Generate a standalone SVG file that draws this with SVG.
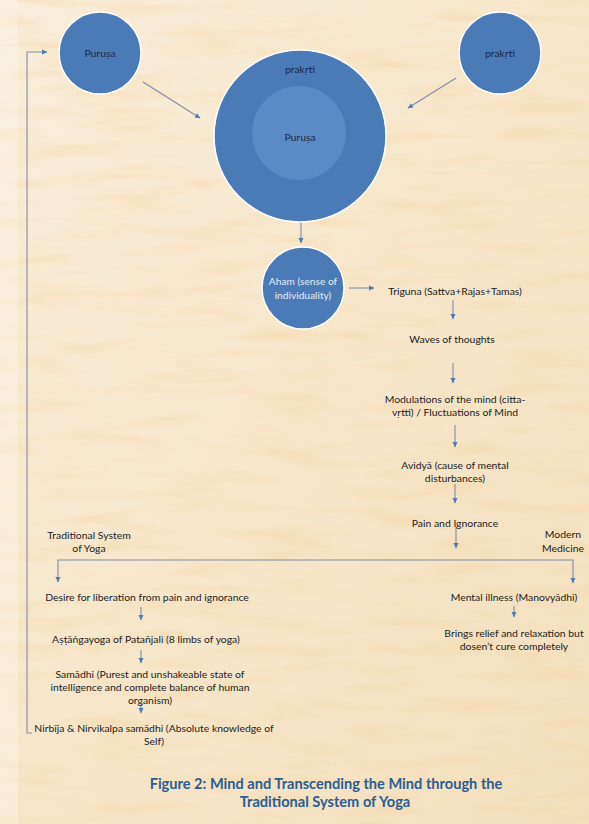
<svg xmlns="http://www.w3.org/2000/svg" width="589" height="824" viewBox="0 0 589 824">
<defs>
<style>
.t{font-family:Lato,"Open Sans","Liberation Sans",sans-serif;font-size:10.4px;fill:#222222;text-anchor:middle}
.nl{font-family:Lato,"Open Sans","Liberation Sans",sans-serif;font-size:10.4px;fill:#1a2a48;text-anchor:middle}
.wl{font-family:Lato,"Open Sans","Liberation Sans",sans-serif;font-size:10.2px;fill:#e3ebf6;text-anchor:middle}
.cap{font-family:Lato,"Open Sans","Liberation Sans",sans-serif;font-size:14.6px;font-weight:bold;fill:#2c5c93;text-anchor:middle}
.c{fill:#4a7bb6;stroke:#ffffff;stroke-width:1.5}
.ln{fill:none;stroke:#7c8ea6;stroke-width:1.1}
</style>
<marker id="ah" markerWidth="6" markerHeight="6" refX="5" refY="3" orient="auto" markerUnits="userSpaceOnUse">
<path d="M0,0.5 L5.5,3 L0,5.5 Z" fill="#4f7cb4"/>
</marker>
<filter id="tex" x="0" y="0" width="100%" height="100%">
<feTurbulence type="fractalNoise" baseFrequency="0.012 0.07" numOctaves="3" seed="7"/>
<feColorMatrix type="matrix" values="0 0 0 0 0.92  0 0 0 0 0.68  0 0 0 0 0.38  0 0 0 2.2 -1.0"/>
</filter>
<linearGradient id="bg" x1="0" y1="0" x2="1" y2="1">
<stop offset="0" stop-color="#f9eedb"/>
<stop offset="0.5" stop-color="#f6e7cb"/>
<stop offset="1" stop-color="#f3dfbc"/>
</linearGradient>
</defs>
<rect width="589" height="824" fill="url(#bg)"/>
<rect width="589" height="824" filter="url(#tex)" opacity="0.6"/>
<rect x="0" y="0" width="18" height="824" fill="#fbf3e4" opacity="0.45"/>

<g id="connectors">
<path class="ln" d="M143,82 L200,118" marker-end="url(#ah)"/>
<path class="ln" d="M456,78 L408,108" marker-end="url(#ah)"/>
<path class="ln" d="M301,222 V243" marker-end="url(#ah)"/>
<path class="ln" d="M349,288 H374" marker-end="url(#ah)"/>
<path class="ln" d="M453,300 V319" marker-end="url(#ah)"/>
<path class="ln" d="M453,363 V383" marker-end="url(#ah)"/>
<path class="ln" d="M455,425 V447" marker-end="url(#ah)"/>
<path class="ln" d="M455,484 V503" marker-end="url(#ah)"/>
<path class="ln" d="M456,527 V548" marker-end="url(#ah)"/>
<path class="ln" d="M300,560 H58 V582" marker-end="url(#ah)"/>
<path class="ln" d="M300,560 H573 V583" marker-end="url(#ah)"/>
<path class="ln" d="M141,607 V620" marker-end="url(#ah)"/>
<path class="ln" d="M141,650 V663" marker-end="url(#ah)"/>
<path class="ln" d="M141,703 V713" marker-end="url(#ah)"/>
<path class="ln" d="M514,606 V617" marker-end="url(#ah)"/>
<path class="ln" d="M32,733 H27 V52 H47" marker-end="url(#ah)"/>
</g>

<g id="purusa-left">
<circle class="c" cx="100" cy="53" r="41"/>
<text class="nl" x="100" y="57">Puruṣa</text>
</g>
<g id="prakrti-right">
<circle class="c" cx="500" cy="53" r="41"/>
<text class="nl" x="500" y="57">prakṛti</text>
</g>
<g id="prakrti-purusa">
<circle class="c" cx="300" cy="136" r="86"/>
<circle cx="299" cy="133" r="47" fill="#5a8bc5"/>
<text class="nl" x="300" y="73">prakṛti</text>
<text class="nl" x="300" y="141">Puruṣa</text>
</g>
<g id="aham">
<circle class="c" cx="303" cy="288" r="41"/>
<text class="wl" x="303" y="285">Aham (sense of</text>
<text class="wl" x="303" y="299">individuality)</text>
</g>
<g id="triguna"><text class="t" x="455" y="295">Triguna (Sattva+Rajas+Tamas)</text></g>
<g id="waves"><text class="t" x="452" y="343">Waves of thoughts</text></g>
<g id="modulations">
<text class="t" x="455" y="403">Modulations of the mind (citta-</text>
<text class="t" x="455" y="416">vṛtti) / Fluctuations of Mind</text>
</g>
<g id="avidya">
<text class="t" x="455" y="469">Avidyā (cause of mental</text>
<text class="t" x="455" y="482">disturbances)</text>
</g>
<g id="pain"><text class="t" x="455" y="527">Pain and Ignorance</text></g>
<g id="traditional">
<text class="t" x="89" y="539">Traditional System</text>
<text class="t" x="89" y="552">of Yoga</text>
</g>
<g id="modern">
<text class="t" x="563" y="538">Modern</text>
<text class="t" x="563" y="552">Medicine</text>
</g>
<g id="desire"><text class="t" x="147" y="601">Desire for liberation from pain and ignorance</text></g>
<g id="astanga"><text class="t" x="146" y="643">Aṣṭāṅgayoga of Patañjali  (8 limbs of yoga)</text></g>
<g id="samadhi">
<text class="t" x="150" y="678">Samādhi (Purest and unshakeable state of</text>
<text class="t" x="150" y="691">intelligence and complete balance of human</text>
<text class="t" x="150" y="704">organism)</text>
</g>
<g id="nirbija">
<text class="t" x="154" y="732">Nirbīja &amp; Nirvikalpa samādhi (Absolute knowledge of</text>
<text class="t" x="154" y="745">Self)</text>
</g>
<g id="mental"><text class="t" x="514" y="601">Mental illness (Manovyādhi)</text></g>
<g id="relief">
<text class="t" x="514" y="637">Brings relief and relaxation but</text>
<text class="t" x="514" y="650">dosen’t cure completely</text>
</g>
<g id="caption">
<text class="cap" x="326" y="789">Figure 2: Mind and Transcending the Mind through the</text>
<text class="cap" x="325" y="807">Traditional System of Yoga</text>
</g>
</svg>
